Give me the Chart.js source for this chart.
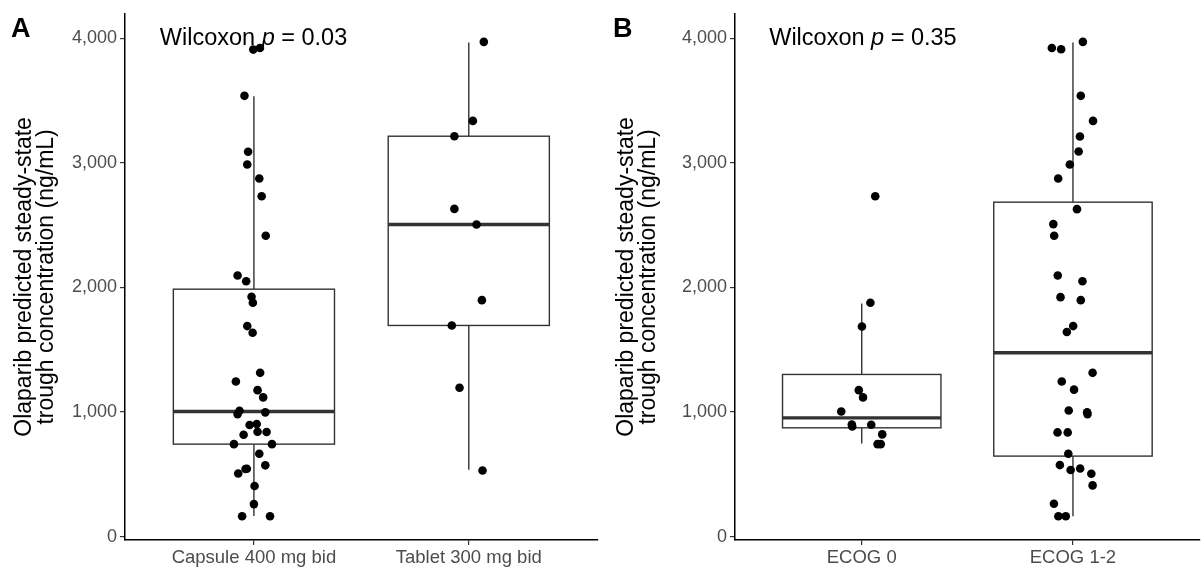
<!DOCTYPE html>
<html>
<head>
<meta charset="utf-8">
<script src="https://cdn.jsdelivr.net/npm/chart.js@4.4.0/dist/chart.umd.min.js"></script>
<style>
  body { margin: 0; background: #fff; }
  #wrap { display: flex; width: 1204px; height: 572px; }
  canvas { display: block; }
</style>
</head>
<body>
<div id="wrap">
  <canvas id="panelA" width="602" height="572"></canvas>
  <canvas id="panelB" width="602" height="572"></canvas>
</div>
<script>
// ---- datos ----
const yTicks = [0, 1000, 2000, 3000, 4000];
const yTitle = ["Olaparib predicted steady-state", "trough concentration (ng/mL)"];

const catsA = ["Capsule 400 mg bid", "Tablet 300 mg bid"];
const catsB = ["ECOG 0", "ECOG 1-2"];
const pValueA = "0.03";
const pValueB = "0.35";

// cajas: [bigote inf, Q1, mediana, Q3, bigote sup]
const boxCapsule = [166, 743, 1005, 1986, 3534];
const boxTablet = [537, 1695, 2505, 3213, 3965];
const boxEcog0 = [749, 874, 954, 1302, 1872];
const boxEcog12 = [164, 647, 1476, 2684, 3965];

// puntos individuales y su desplazamiento horizontal (jitter)
const capsuleValues = [3908, 3921, 3537, 3088, 2986, 2874, 2732, 2414, 2096, 2050, 1925, 1877, 1690, 1636,
  1315, 1246, 1176, 1118, 1011, 984, 998, 896, 904, 818, 842, 840, 743, 743, 666, 573, 545, 543, 508, 407, 262, 164, 164];
const capsuleJitter = [-0.003, 0.028, -0.044, -0.027, -0.031, 0.025, 0.036, 0.055, -0.076, -0.036, -0.011, -0.005, -0.031, -0.006,
  0.029, -0.084, 0.017, 0.043, -0.067, -0.076, 0.053, -0.02, 0.013, -0.048, 0.017, 0.059, -0.093, 0.084, 0.025, 0.053, -0.033, -0.039, -0.073, 0.003, 0, -0.055, 0.075];

const tabletValues = [3970, 3336, 3213, 2630, 2505, 1898, 1695, 1195, 532];
const tabletJitter = [0.07, 0.019, -0.067, -0.067, 0.036, 0.061, -0.079, -0.043, 0.064];

const ecog0Values = [2732, 1877, 1687, 1176, 1118, 1005, 901, 885, 898, 821, 743, 743];
const ecog0Jitter = [0.064, 0.041, 0.001, -0.014, 0.006, -0.097, -0.047, -0.045, 0.045, 0.097, 0.075, 0.09];

const ecog12Values = [3921, 3911, 3970, 3537, 3336, 3211, 3091, 2986, 2874, 2628, 2508, 2414, 2096, 2050, 1922, 1898,
  1690, 1642, 1315, 1246, 1180, 1013, 998, 984, 837, 837, 666, 575, 535, 548, 505, 412, 265, 164, 164];
const ecog12Jitter = [-0.1, -0.056, 0.047, 0.037, 0.095, 0.033, 0.027, -0.015, -0.07, 0.019, -0.093, -0.089, -0.072, 0.045, -0.059, 0.037,
  0.001, -0.029, 0.093, -0.053, 0.005, -0.02, 0.067, 0.069, -0.073, -0.025, -0.022, -0.062, -0.011, 0.034, 0.087, 0.093, -0.09, -0.069, -0.034];

const FONT = "'Liberation Sans', Arial, sans-serif";

// dibuja las cajas antes que los puntos
function boxPlugin(stats) {
    return {
        id: "cajas",
        beforeDatasetsDraw(chart) {
            const { ctx, scales: { x, y } } = chart;
            ctx.save();
            ctx.strokeStyle = "#333333";
            stats.forEach((s, i) => {
                const cx = x.getPixelForValue(i + 1);
                const l = x.getPixelForValue(i + 1 - 0.375);
                const r = x.getPixelForValue(i + 1 + 0.375);
                const [lo, q1, med, q3, hi] = s.map(v => y.getPixelForValue(v));
                ctx.lineWidth = 1.4;
                ctx.beginPath();
                ctx.moveTo(cx, q3); ctx.lineTo(cx, hi);
                ctx.moveTo(cx, q1); ctx.lineTo(cx, lo);
                ctx.stroke();
                ctx.fillStyle = "#fff";
                ctx.fillRect(l, q3, r - l, q1 - q3);
                ctx.strokeRect(l, q3, r - l, q1 - q3);
                ctx.lineWidth = 3.4;
                ctx.beginPath();
                ctx.moveTo(l, med); ctx.lineTo(r, med);
                ctx.stroke();
            });
            ctx.restore();
        }
    };
}

// letra del panel y texto de Wilcoxon
function textPlugin(letter, pValue) {
    return {
        id: "textos",
        afterDraw(chart) {
            const { ctx, scales: { x, y } } = chart;
            ctx.save();
            ctx.fillStyle = "#000";
            ctx.textBaseline = "alphabetic";
            ctx.font = "bold 27px " + FONT;
            ctx.fillText(letter, 11, 37);

            ctx.textBaseline = "middle";
            let px = x.getPixelForValue(0.562);
            const py = y.getPixelForValue(4000);
            const parts = [["Wilcoxon ", ""], ["p", "italic "], [" = " + pValue, ""]];
            parts.forEach(([t, style]) => {
                ctx.font = style + "23.5px " + FONT;
                ctx.fillText(t, px, py);
                px += ctx.measureText(t).width;
            });
            ctx.restore();
        }
    };
}

function crearPanel(id, cats, stats, groups, letter, pValue, yWidth, rightPad) {
    const datasets = groups.map(([vals, jit], g) => ({
        data: vals.map((v, i) => ({ x: g + 1 + jit[i], y: v })),
        backgroundColor: "#000",
        borderColor: "#000",
        pointRadius: 4.3,
        pointBorderWidth: 0,
        clip: false
    }));

    return new Chart(document.getElementById(id), {
        type: "scatter",
        data: { datasets },
        options: {
            responsive: false,
            animation: false,
            devicePixelRatio: 1,
            layout: { padding: { top: 13, right: rightPad, bottom: 0, left: 0 } },
            plugins: { legend: { display: false }, tooltip: { enabled: false } },
            scales: {
                x: {
                    type: "linear",
                    min: 0.4,
                    max: 2.6,
                    afterBuildTicks: s => { s.ticks = cats.map((c, i) => ({ value: i + 1 })); },
                    afterFit: s => { s.height = 32; },
                    ticks: {
                        autoSkip: false,
                        maxRotation: 0,
                        padding: 2,
                        color: "#4d4d4d",
                        font: { family: FONT, size: 18.5 },
                        callback: v => cats[Math.round(v) - 1]
                    },
                    grid: { display: true, drawOnChartArea: false, drawTicks: true, tickLength: 5, color: "#333", lineWidth: 1.2 },
                    border: { display: true, color: "#000", width: 1.5 }
                },
                y: {
                    type: "linear",
                    min: -26,
                    max: 4195,
                    afterBuildTicks: s => { s.ticks = yTicks.map(v => ({ value: v })); },
                    afterFit: s => { s.width = yWidth; },
                    ticks: {
                        padding: 3,
                        color: "#4d4d4d",
                        font: { family: FONT, size: 18 },
                        callback: v => v.toLocaleString("en-US")
                    },
                    grid: { display: true, drawOnChartArea: false, drawTicks: true, tickLength: 5, color: "#333", lineWidth: 1.2 },
                    border: { display: true, color: "#000", width: 1.5 },
                    title: {
                        display: true,
                        text: yTitle,
                        color: "#000",
                        font: { family: FONT, size: 23, lineHeight: 0.96 },
                        padding: { top: 14, bottom: 0 }
                    }
                }
            }
        },
        plugins: [boxPlugin(stats), textPlugin(letter, pValue)]
    });
}

crearPanel("panelA", catsA, [boxCapsule, boxTablet],
    [[capsuleValues, capsuleJitter], [tabletValues, tabletJitter]], "A", pValueA, 125, 4);
crearPanel("panelB", catsB, [boxEcog0, boxEcog12],
    [[ecog0Values, ecog0Jitter], [ecog12Values, ecog12Jitter]], "B", pValueB, 133, 0);
</script>
</body>
</html>
